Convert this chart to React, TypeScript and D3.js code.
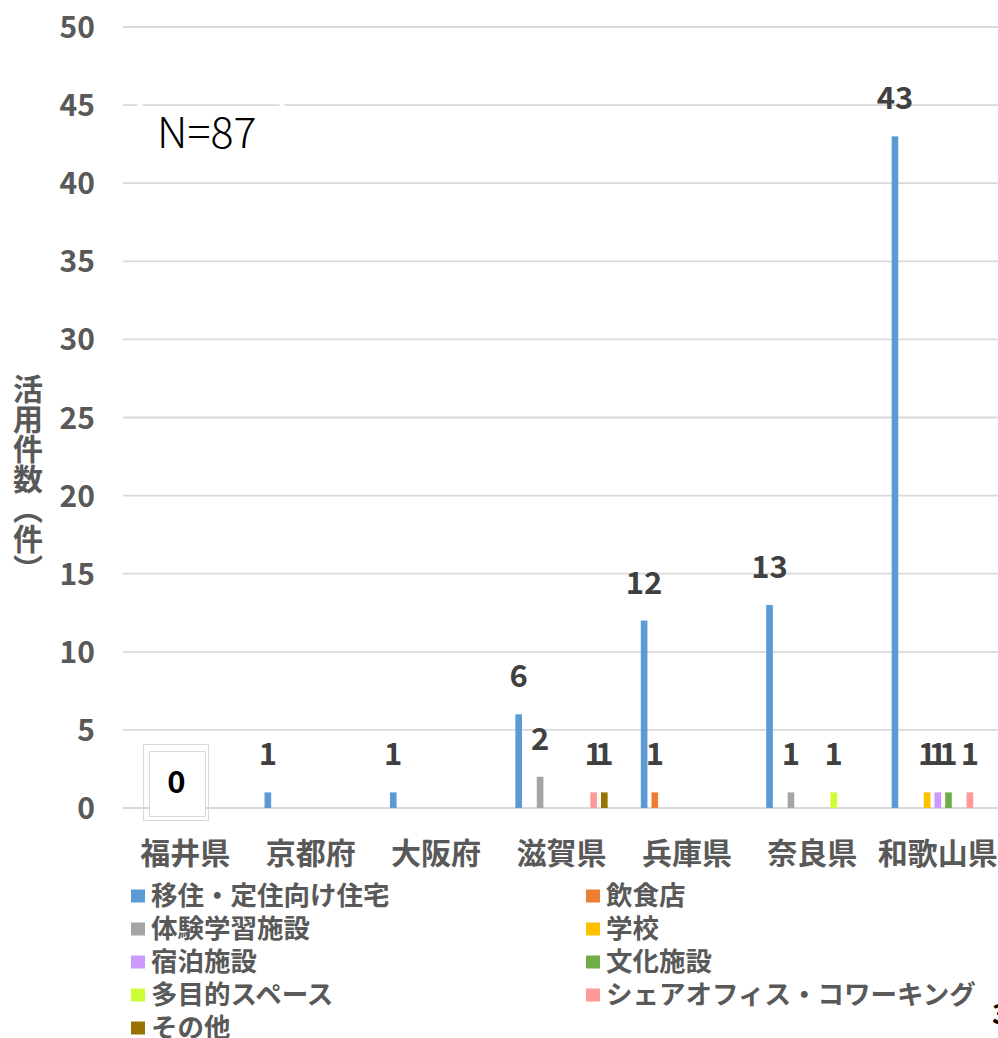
import React from "react";
import * as d3 from "d3";

const categories = ["福井県", "京都府", "大阪府", "滋賀県", "兵庫県", "奈良県", "和歌山県"];
const seriesNames = [
  "移住・定住向け住宅",
  "飲食店",
  "体験学習施設",
  "学校",
  "宿泊施設",
  "文化施設",
  "多目的スペース",
  "シェアオフィス・コワーキング",
  "その他",
];
const seriesColors = ["#5B9BD5", "#ED7D31", "#A5A5A5", "#FFC000", "#CC99FF", "#70AD47", "#CCFF33", "#FF9999", "#997300"];
// values[series][category]
const s_iju = [0, 1, 1, 6, 12, 13, 43];
const s_inshoku = [0, 0, 0, 0, 1, 0, 0];
const s_taiken = [0, 0, 0, 2, 0, 1, 0];
const s_gakko = [0, 0, 0, 0, 0, 0, 1];
const s_shukuhaku = [0, 0, 0, 0, 0, 0, 1];
const s_bunka = [0, 0, 0, 0, 0, 0, 1];
const s_tamokuteki = [0, 0, 0, 0, 0, 1, 0];
const s_share = [0, 0, 0, 1, 0, 0, 1];
const s_sonota = [0, 0, 0, 1, 0, 0, 0];
const seriesValues = [s_iju, s_inshoku, s_taiken, s_gakko, s_shukuhaku, s_bunka, s_tamokuteki, s_share, s_sonota];
const yTicks = [0, 5, 10, 15, 20, 25, 30, 35, 40, 45, 50];
const yTitle = "活用件数（件）";
const nLabel = "N=87";
const zeroLabel = "0";

const W = 998;
const H = 1038;
const FONT = "'Noto Sans CJK JP', 'Noto Sans', sans-serif";

export default function App() {
  const x0 = d3.scaleBand<string>().domain(categories).range([122.5, 1000.5]).paddingInner(0.232).paddingOuter(0.116);
  const x1 = d3
    .scaleBand<number>()
    .domain(d3.range(seriesNames.length))
    .range([0, x0.bandwidth()])
    .paddingInner(0.38)
    .paddingOuter(0.19);
  const y = d3.scaleLinear().domain([0, 50]).range([808, 27]);

  const bars: any[] = [];
  seriesValues.forEach((vals, si) => {
    vals.forEach((v, ci) => {
      if (v > 0) {
        const bx = (x0(categories[ci]) as number) + (x1(si) as number);
        bars.push({ si, ci, v, x: bx, w: x1.bandwidth() });
      }
    });
  });

  const legendRows = [896, 929, 962, 995, 1028];
  const legendCols = [131, 586];

  return (
    <svg width={W} height={H} style={{ position: "absolute", left: 0, top: 0, background: "#fff" }} fontFamily={FONT}>
      <rect x={0} y={0} width={W} height={H} fill="#fff" />
      {/* gridlines */}
      {yTicks.map((t) => (
        <line key={"g" + t} x1={123} x2={W} y1={y(t)} y2={y(t)} stroke="#d9d9d9" strokeWidth={1.8} />
      ))}
      {/* tick labels */}
      {yTicks.map((t) => (
        <text key={"t" + t} x={95} y={y(t) + 11} textAnchor="end" fontSize={30} fontWeight="bold" fill="#595959">
          {t}
        </text>
      ))}
      {/* y title vertical */}
      <text
        x={28}
        y={374}
        fontSize={30}
        fontWeight="bold"
        fill="#595959"
        style={{ writingMode: "vertical-rl" as any }}
      >
        {yTitle}
      </text>
      {/* N box */}
      <rect x={140} y={88} width={142} height={75} fill="none" stroke="#fff" strokeWidth={5} />
      <text x={157} y={148} fontSize={43} fontWeight={300} fill="#000">
        {nLabel}
      </text>
      {/* bars */}
      {bars.map((b, i) => (
        <rect key={"b" + i} x={b.x} y={y(b.v)} width={b.w} height={y(0) - y(b.v)} fill={seriesColors[b.si]} />
      ))}
      {/* data labels */}
      {bars.map((b, i) => (
        <text
          key={"l" + i}
          x={b.x + b.w / 2}
          y={y(b.v) - 27}
          textAnchor="middle"
          fontSize={31}
          fontWeight="bold"
          fill="#404040"
        >
          {b.v}
        </text>
      ))}
      {/* zero label box for first category */}
      <rect x={143.5} y={744.5} width={65} height={76} fill="none" stroke="#d9d9d9" strokeWidth={1} />
      <rect x={149.5} y={751.5} width={56} height={65} fill="#fff" stroke="#d9d9d9" strokeWidth={1} />
      <text x={176.5} y={793} textAnchor="middle" fontSize={31} fontWeight="bold" fill="#000">
        {zeroLabel}
      </text>
      {/* category labels */}
      {categories.map((c) => (
        <text
          key={"c" + c}
          x={(x0(c) as number) + x0.bandwidth() / 2}
          y={864}
          textAnchor="middle"
          fontSize={30}
          fontWeight="bold"
          fill="#595959"
        >
          {c}
        </text>
      ))}
      {/* legend */}
      {seriesNames.map((s, i) => {
        const col = i % 2;
        const row = Math.floor(i / 2);
        const lx = legendCols[col];
        const ly = legendRows[row];
        return (
          <g key={"lg" + i}>
            <rect x={lx} y={ly - 6.5} width={14} height={13} fill={seriesColors[i]} />
            <text x={lx + 20} y={ly + 9} fontSize={26.5} fontWeight="bold" fill="#595959">
              {s}
            </text>
          </g>
        );
      })}
      {/* cut-off page mark */}
      <text x={992} y={1024} fontSize={28} fontWeight="bold" fill="#000">
        3
      </text>
    </svg>
  );
}
